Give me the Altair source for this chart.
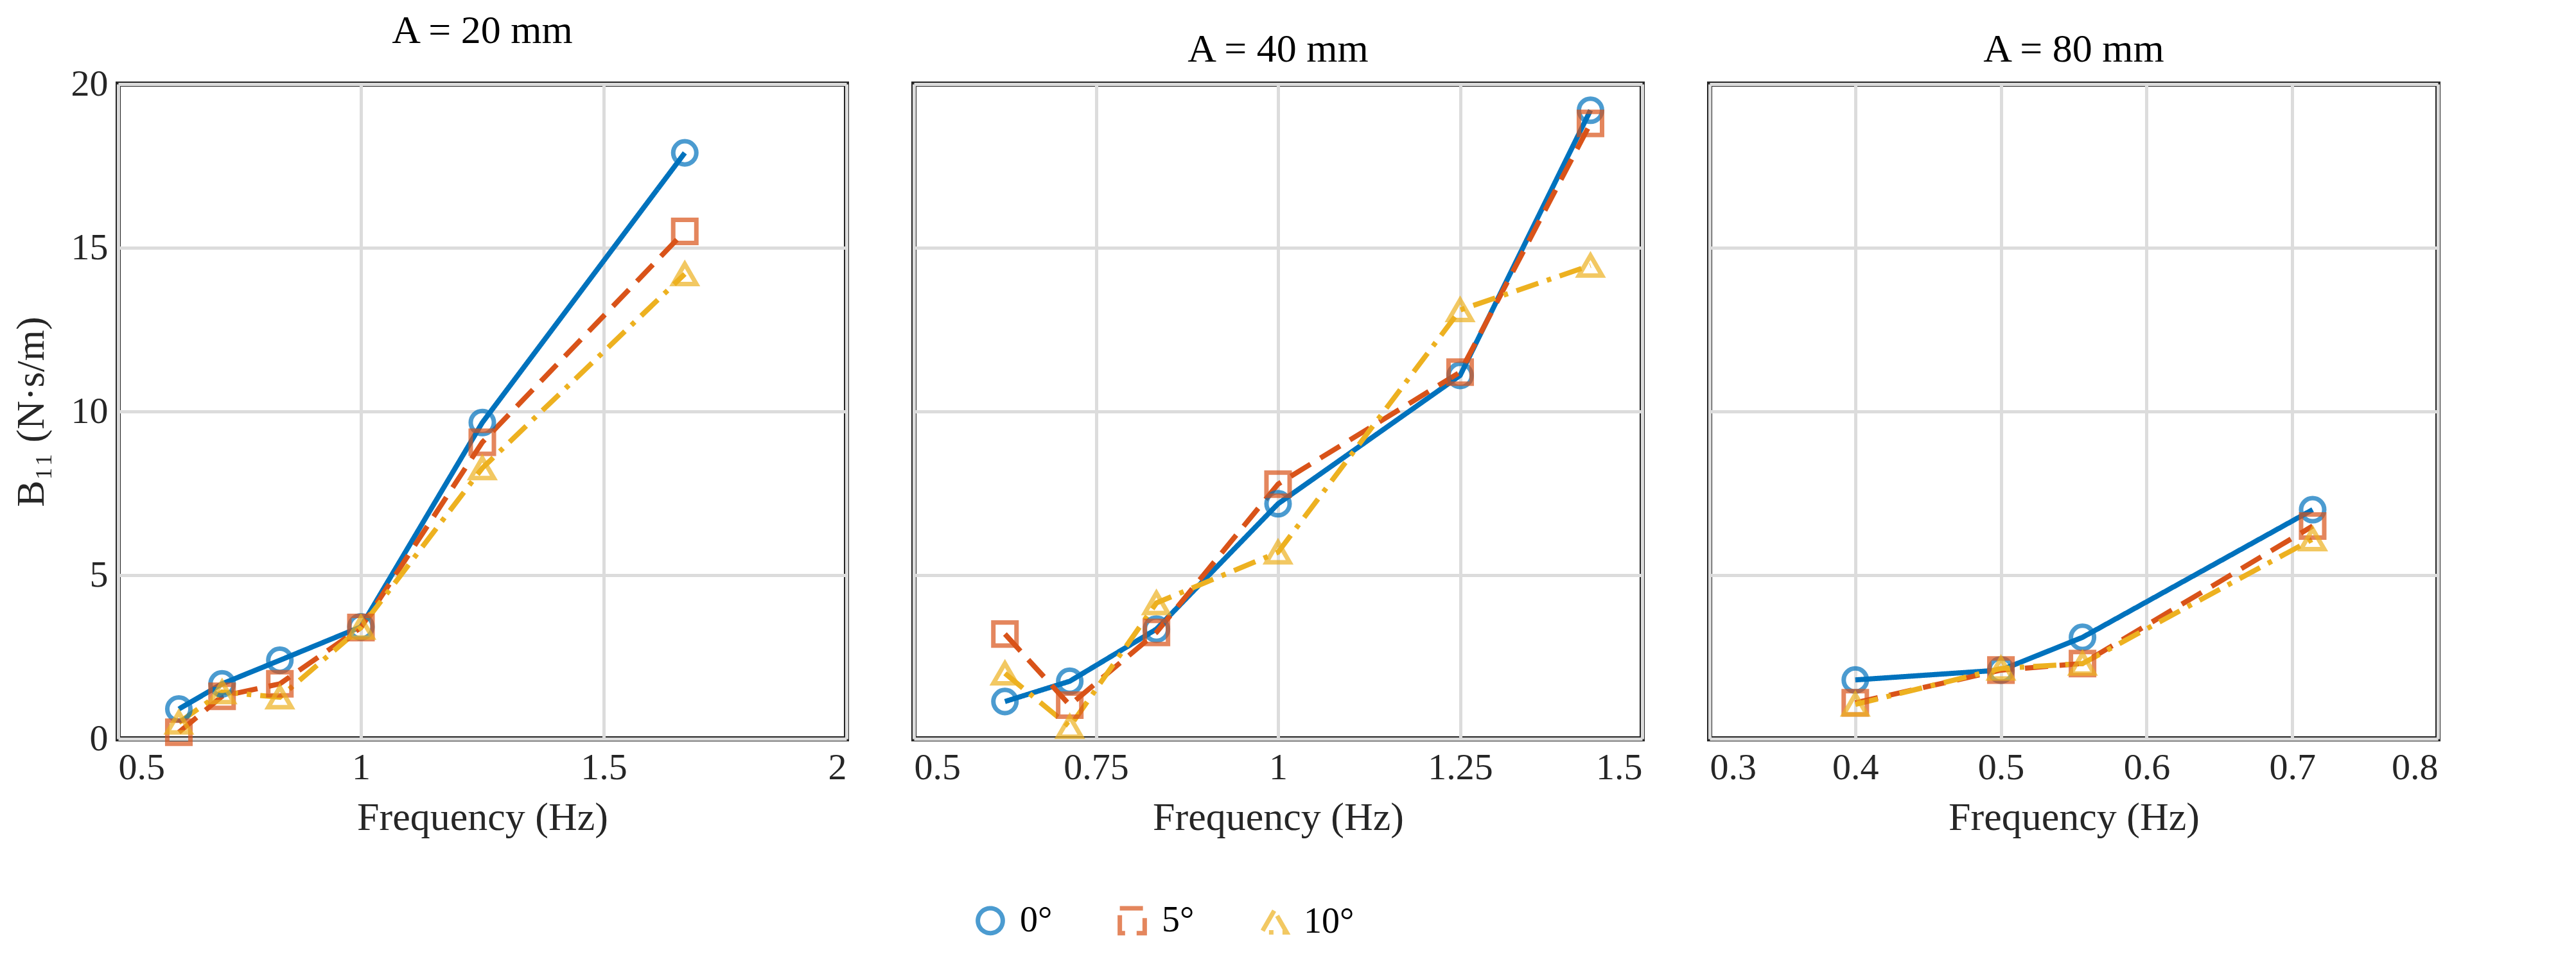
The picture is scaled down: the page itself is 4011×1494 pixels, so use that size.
import altair as alt
import pandas as pd

FONT = "Liberation Serif"
SERIES = ["0°", "5°", "10°"]
COLORS = ["#0072BD", "#D95319", "#EDB120"]
SHAPES = ["circle", "square", "triangle-up"]
DASHES = [[1, 0], [36, 18], [36, 14, 7, 14]]

# A = 20 mm
f20 = [0.625, 0.714, 0.833, 1.0, 1.25, 1.667]
b20_0 = [0.91, 1.68, 2.4, 3.42, 9.66, 17.9]
b20_5 = [0.2, 1.3, 1.68, 3.4, 9.06, 15.5]
b20_10 = [0.5, 1.43, 1.27, 3.4, 8.27, 14.2]

# A = 40 mm
f40 = [0.625, 0.714, 0.833, 1.0, 1.25, 1.429]
b40_0 = [1.14, 1.76, 3.35, 7.18, 11.1, 19.2]
b40_5 = [3.2, 1.03, 3.25, 7.78, 11.2, 18.8]
b40_10 = [2.0, 0.37, 4.15, 5.7, 13.1, 14.46]

# A = 80 mm
f80 = [0.4, 0.5, 0.556, 0.714]
b80_0 = [1.8, 2.1, 3.1, 7.0]
b80_5 = [1.1, 2.1, 2.3, 6.5]
b80_10 = [1.05, 2.15, 2.3, 6.1]


def make_df(freqs, values):
    rows = []
    for s, vals in zip(SERIES, values):
        for f, v in zip(freqs, vals):
            rows.append({"f": f, "b": v, "angle": s})
    return pd.DataFrame(rows)


def panel(df, title, xdom, xticks, first):
    if first:
        leg = alt.Legend(title=None, orient="none", direction="horizontal",
                         legendX=1330, legendY=1275,
                         labelFontSize=56, labelFont=FONT, symbolSize=1500,
                         symbolStrokeWidth=7, columnPadding=90,
                         labelOffset=18, symbolFillColor="white")
    else:
        leg = None
    color = alt.Color("angle:N", scale=alt.Scale(domain=SERIES, range=COLORS), legend=leg)
    shape = alt.Shape("angle:N", scale=alt.Scale(domain=SERIES, range=SHAPES), legend=None)
    dash = alt.StrokeDash("angle:N", scale=alt.Scale(domain=SERIES, range=DASHES), legend=None)
    x = alt.X("f:Q", scale=alt.Scale(domain=xdom, nice=False),
              axis=alt.Axis(values=xticks, title="Frequency (Hz)", labelExpr="datum.value"))
    y = alt.Y("b:Q", scale=alt.Scale(domain=[0, 20], nice=False),
              axis=alt.Axis(values=[0, 5, 10, 15, 20], labels=first,
                            title="B₁₁  (N·s/m)" if first else None))
    base = alt.Chart(df)
    lines = base.mark_line(strokeWidth=8).encode(x=x, y=y, color=color, strokeDash=dash)
    pts = base.mark_point(size=1300, strokeWidth=7, filled=False).encode(
        x=x, y=y, color=color, shape=shape)
    return alt.layer(lines, pts).properties(
        width=1134, height=1020,
        title=alt.TitleParams(title, fontSize=62, font=FONT, fontWeight="normal",
                              offset=22, frame="group", anchor="middle"))


p1 = panel(make_df(f20, [b20_0, b20_5, b20_10]), "A = 20 mm", [0.5, 2], [0.5, 1, 1.5, 2], True)
p2 = panel(make_df(f40, [b40_0, b40_5, b40_10]), "A = 40 mm", [0.5, 1.5],
           [0.5, 0.75, 1, 1.25, 1.5], False)
p3 = panel(make_df(f80, [b80_0, b80_5, b80_10]), "A = 80 mm", [0.3, 0.8],
           [0.3, 0.4, 0.5, 0.6, 0.7, 0.8], False)

chart = alt.hconcat(p1, p2, p3, spacing=97).resolve_scale(
    x="independent", color="shared"
).configure_view(stroke="#262626", strokeWidth=8).configure_axis(
    labelFont=FONT, titleFont=FONT, labelFontSize=58, titleFontSize=62,
    titleFontWeight="normal", labelColor="#262626", titleColor="#262626",
    grid=True, gridColor="#dcdcdc", gridWidth=5, domain=False,
    ticks=False, labelPadding=16, titlePadding=18
).configure_axisY(titlePadding=30).properties(background="white")

chart.save("out.html", embed_options={"renderer": "svg", "actions": False})
